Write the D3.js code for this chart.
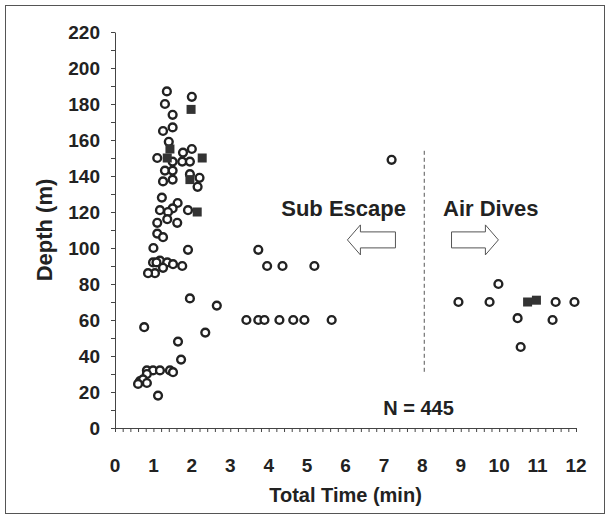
<!DOCTYPE html>
<html lang="en">
<head>
    <meta charset="UTF-8">
    <title>Depth vs Total Time</title>
    <script src="https://cdn.jsdelivr.net/npm/d3@7"></script>
    <style>
        body { margin: 0; background: #fff; }
        text { font-family: "Liberation Sans", Arial, sans-serif; font-weight: bold; fill: #222; }
    </style>
</head>
<body>
<script>
    // [time (min), depth (m)]
    var subCircles = [
        [1.35, 187], [1.3, 180], [2.0, 184], [1.5, 174], [1.25, 165], [1.5, 167], [1.4, 159],
        [1.1, 150], [1.5, 148], [1.75, 148], [1.95, 148], [1.77, 153], [2.0, 155],
        [1.3, 143], [1.5, 143], [1.95, 141], [2.2, 139], [2.15, 134], [1.25, 137], [1.5, 138],
        [1.22, 128], [1.63, 125], [1.5, 122], [1.17, 121], [1.38, 120], [1.9, 121],
        [1.1, 114], [1.36, 116], [1.62, 114], [1.1, 108], [1.25, 106], [1.0, 100], [1.9, 99],
        [0.99, 92], [1.17, 93], [1.36, 92], [1.51, 91], [1.75, 90], [1.08, 92], [1.25, 89],
        [1.04, 86], [0.86, 86],
        [1.95, 72], [2.65, 68], [2.35, 53], [0.76, 56], [1.64, 48], [1.72, 38],
        [0.83, 32], [0.99, 32], [1.17, 32], [1.43, 32], [1.51, 31], [0.83, 30],
        [0.65, 26], [0.73, 27], [0.83, 25], [0.6, 24.5], [1.12, 18],
        [3.73, 99], [3.96, 90], [4.36, 90], [5.19, 90],
        [3.42, 60], [3.73, 60], [3.89, 60], [4.28, 60], [4.64, 60], [4.93, 60], [5.64, 60],
        [7.2, 149]
    ];
    var subSquares = [[1.98, 177], [1.36, 150], [1.43, 155], [2.27, 150], [1.95, 138], [2.14, 120]];
    var airCircles = [[8.94, 70], [9.75, 70], [9.98, 80], [10.48, 61], [10.56, 45], [11.47, 70], [11.96, 70], [11.39, 60]];
    var airSquares = [[10.74, 70], [10.97, 71]];

    var xTicks = d3.range(0, 13, 1);
    var yTicks = d3.range(0, 221, 20);

    var W = 610, H = 519;
    var margin = {top: 32, right: 34, bottom: 91, left: 115},
        width = W - margin.left - margin.right,
        height = H - margin.top - margin.bottom;

    var svg = d3.select("body").append("svg")
        .attr("width", W)
        .attr("height", H);

    // outer frame
    svg.append("rect")
        .attr("x", 5.5).attr("y", 5.5)
        .attr("width", 599).attr("height", 508)
        .attr("fill", "none").attr("stroke", "#555").attr("stroke-width", 1);

    var g = svg.append("g")
        .attr("transform", "translate(" + margin.left + "," + margin.top + ")");

    var x = d3.scaleLinear().domain([0, 12]).range([0, width]);
    var y = d3.scaleLinear().domain([0, 220]).range([height, 0]);

    // x axis: minor ticks every 0.2
    var xAxis = g.append("g")
        .attr("transform", "translate(0," + height + ")")
        .call(d3.axisBottom(x).tickValues(d3.range(0, 12.01, 0.2)).tickSize(4).tickSizeOuter(0).tickFormat(""));
    xAxis.selectAll("line, path").attr("stroke", "#444");

    g.append("g").selectAll("text")
        .data(xTicks)
        .enter().append("text")
        .attr("x", function(d) { return x(d); })
        .attr("y", height + 44)
        .attr("text-anchor", "middle")
        .style("font-size", "19px")
        .text(function(d) { return d; });

    // y axis: minor ticks every 10
    var yAxis = g.append("g")
        .call(d3.axisLeft(y).tickValues(d3.range(0, 221, 10)).tickSize(4).tickSizeOuter(0).tickFormat(""));
    yAxis.selectAll("line, path").attr("stroke", "#444");

    g.append("g").selectAll("text")
        .data(yTicks)
        .enter().append("text")
        .attr("x", -15)
        .attr("y", function(d) { return y(d) + 7; })
        .attr("text-anchor", "end")
        .style("font-size", "19px")
        .text(function(d) { return d; });

    // axis titles
    g.append("text")
        .attr("x", width / 2)
        .attr("y", height + 74)
        .attr("text-anchor", "middle")
        .style("font-size", "20px")
        .text("Total Time (min)");

    g.append("text")
        .attr("transform", "rotate(-90)")
        .attr("x", -y(110))
        .attr("y", -63)
        .attr("text-anchor", "middle")
        .style("font-size", "22px")
        .text("Depth (m)");

    // divider between the two groups
    g.append("line")
        .attr("x1", x(8.05)).attr("x2", x(8.05))
        .attr("y1", y(154)).attr("y2", y(31))
        .attr("stroke", "#555").attr("stroke-width", 1)
        .attr("stroke-dasharray", "4,3");

    // annotations
    g.append("text")
        .attr("x", x(5.95)).attr("y", y(122) + 8)
        .attr("text-anchor", "middle")
        .style("font-size", "22px")
        .text("Sub Escape");

    g.append("text")
        .attr("x", x(9.78)).attr("y", y(122) + 8)
        .attr("text-anchor", "middle")
        .style("font-size", "22px")
        .text("Air Dives");

    function arrow(x0, x1, yc, dir) {
        // dir -1 points left, +1 points right
        var tip = dir < 0 ? x0 : x1,
            tail = dir < 0 ? x1 : x0,
            base = tip - dir * 13;
        var pts = [[tip, yc], [base, yc - 15], [base, yc - 8], [tail, yc - 8],
                   [tail, yc + 8], [base, yc + 8], [base, yc + 15]];
        return "M" + pts.join("L") + "Z";
    }

    g.append("path")
        .attr("d", arrow(x(6.05), x(7.3), y(104.5), -1))
        .attr("fill", "#fff").attr("stroke", "#555").attr("stroke-width", 1);

    g.append("path")
        .attr("d", arrow(x(8.76), x(9.98), y(104.5), 1))
        .attr("fill", "#fff").attr("stroke", "#555").attr("stroke-width", 1);

    g.append("text")
        .attr("x", x(7.9)).attr("y", y(11) + 7)
        .attr("text-anchor", "middle")
        .style("font-size", "20px")
        .text("N = 445");

    // markers
    var circles = subCircles.concat(airCircles);
    var squares = subSquares.concat(airSquares);

    g.selectAll("circle.pt")
        .data(circles)
        .enter().append("circle")
        .attr("class", "pt")
        .attr("cx", function(d) { return x(d[0]); })
        .attr("cy", function(d) { return y(d[1]); })
        .attr("r", 3.9)
        .attr("fill", "#fff")
        .attr("stroke", "#222")
        .attr("stroke-width", 2.4);

    g.selectAll("rect.sq")
        .data(squares)
        .enter().append("rect")
        .attr("class", "sq")
        .attr("x", function(d) { return x(d[0]) - 4.5; })
        .attr("y", function(d) { return y(d[1]) - 4.5; })
        .attr("width", 9)
        .attr("height", 9)
        .attr("fill", "#333");
</script>
</body>
</html>
